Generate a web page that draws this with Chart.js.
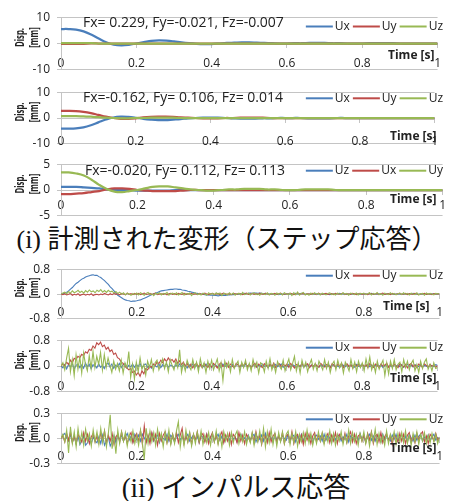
<!DOCTYPE html>
<html>
<head>
<meta charset="utf-8">
<script src="https://cdn.jsdelivr.net/npm/chart.js@4.4.0/dist/chart.umd.min.js"></script>
<style>
  body { margin: 0; background: #fff; }
  #fig { position: relative; width: 450px; height: 501px; overflow: hidden; background: #fff; }
  #fig canvas { position: absolute; left: 0; }
  .cap { position: absolute; white-space: nowrap; font-family: "Liberation Serif", "Noto Sans CJK JP", serif;
         font-size: 26px; line-height: 30px; height: 30px; color: #111; transform: translateX(-50%); }
</style>
</head>
<body>
<div id="fig">
  <div class="cap" id="cap1" style="left:227px; top:225px;">(i) 計測された変形（ステップ応答）</div>
  <div class="cap" id="cap2" style="left:236px; top:473px; font-size:27px;">(ii) インパルス応答</div>
</div>
<script>
// time axis samples
const stepTime = [0,0.02,0.04,0.06,0.08,0.1,0.12,0.14,0.16,0.18,0.2,0.22,0.24,0.26,0.28,0.3,0.32,0.34,0.36,0.38,
  0.4,0.42,0.44,0.46,0.48,0.5,0.52,0.54,0.56,0.58,0.6,0.62,0.64,0.66,0.68,0.7,0.72,0.74,0.76,0.78,
  0.8,0.82,0.84,0.86,0.88,0.9,0.92,0.94,0.96,0.98,1];
const impTime = [
  0,0.005,0.01,0.015,0.02,0.025,0.03,0.035,0.04,0.045,0.05,0.055,0.06,0.065,0.07,0.075,0.08,0.085,0.09,0.095,
  0.1,0.105,0.11,0.115,0.12,0.125,0.13,0.135,0.14,0.145,0.15,0.155,0.16,0.165,0.17,0.175,0.18,0.185,0.19,0.195,
  0.2,0.205,0.21,0.215,0.22,0.225,0.23,0.235,0.24,0.245,0.25,0.255,0.26,0.265,0.27,0.275,0.28,0.285,0.29,0.295,
  0.3,0.305,0.31,0.315,0.32,0.325,0.33,0.335,0.34,0.345,0.35,0.355,0.36,0.365,0.37,0.375,0.38,0.385,0.39,0.395,
  0.4,0.405,0.41,0.415,0.42,0.425,0.43,0.435,0.44,0.445,0.45,0.455,0.46,0.465,0.47,0.475,0.48,0.485,0.49,0.495,
  0.5,0.505,0.51,0.515,0.52,0.525,0.53,0.535,0.54,0.545,0.55,0.555,0.56,0.565,0.57,0.575,0.58,0.585,0.59,0.595,
  0.6,0.605,0.61,0.615,0.62,0.625,0.63,0.635,0.64,0.645,0.65,0.655,0.66,0.665,0.67,0.675,0.68,0.685,0.69,0.695,
  0.7,0.705,0.71,0.715,0.72,0.725,0.73,0.735,0.74,0.745,0.75,0.755,0.76,0.765,0.77,0.775,0.78,0.785,0.79,0.795,
  0.8,0.805,0.81,0.815,0.82,0.825,0.83,0.835,0.84,0.845,0.85,0.855,0.86,0.865,0.87,0.875,0.88,0.885,0.89,0.895,
  0.9,0.905,0.91,0.915,0.92,0.925,0.93,0.935,0.94,0.945,0.95,0.955,0.96,0.965,0.97,0.975,0.98,0.985,0.99,0.995,1];

// (i) step response, Fx= 0.229
const p1Ux = [5.5,5.5,5.3,4.6,3.4,1.9,0.5,-0.4,-0.7,-0.5, 0,0.5,1.0,1.2,1.1,0.8,0.4,0.1,-0.1,-0.2,
  -0.2,0,0.2,0.3,0.4,0.4,0.3,0.2,0.1,0, 0,0.1,0.1,0.2,0.2,0.2,0.1,0.1,0,0, 0,0.1,0.1,0.1,0.1,0,0,0,0,0,0];
const p1Uy = [-0.1,-0.1,-0.1,-0.1,0,0,0,0,0,0, 0,0,0,0,0,0,0,0,0,0, 0,0,0,0,0,0,0,0,0,0,
  0,0,0,0,0,0,0,0,0,0, 0,0,0,0,0,0,0,0,0,0,0];
const p1Uz = [0.1,0.1,0.1,0.1,0.1,0,0,0,0,0, 0,0,0,0,0,0,0,0,0,0, 0,0,0,0,0,0,0,0,0,0,
  0,0,0,0,0,0,0,0,0,0, 0,0,0,0,0,0,0,0,0,0,0];
// Fx=-0.162
const p2Ux = [-4.1,-4.1,-4.0,-3.6,-2.8,-1.7,-0.6,0.2,0.5,0.4, 0.1,-0.3,-0.6,-0.8,-0.8,-0.6,-0.4,-0.1,0,0.1,
  0.1,0.1,0,-0.1,-0.2,-0.2,-0.2,-0.1,-0.1,0, 0,0,0,-0.1,-0.1,-0.1,-0.1,0,0,0, 0,0,0,0,0,0,0,0,0,0,0];
const p2Uy = [2.8,2.8,2.7,2.4,1.9,1.2,0.5,0,-0.3,-0.3, -0.1,0.2,0.4,0.5,0.5,0.4,0.2,0.1,0,-0.1,
  -0.1,-0.1,0,0,0.1,0.1,0.1,0.1,0,0, 0,0,0,0,0,0,0,0,0,0, 0,0,0,0,0,0,0,0,0,0,0];
const p2Uz = [0.7,0.7,0.7,0.6,0.5,0.3,0.1,0,-0.1,-0.1, 0,0,0.1,0.1,0.1,0.1,0,0,0,0,
  0,0,0,0,0,0,0,0,0,0, 0,0,0,0,0,0,0,0,0,0, 0,0,0,0,0,0,0,0,0,0,0];
// Fx=-0.020 (legend order Uz, Ux, Uy)
const p3Uz = [0.6,0.6,0.6,0.5,0.4,0.3,0.1,0,0,0, -0.1,-0.1,-0.1,-0.1,-0.1,0,0,0,0,0,
  0,0,0,0,0,0,0,0,0,0, 0,0,0,0,0,0,0,0,0,0, 0,0,0,0,0,0,0,0,0,0,0];
const p3Ux = [-0.8,-0.8,-0.7,-0.6,-0.4,-0.2,0.1,0.3,0.3,0.2, 0,-0.1,-0.2,-0.2,-0.2,-0.2,-0.1,0,0,0,
  0,0,0,0,0,0,0,0,0,0, 0,0,0,0,0,0,0,0,0,0, 0,0,0,0,0,0,0,0,0,0,0];
const p3Uy = [3.4,3.4,3.2,2.8,2.0,1.0,0.2,-0.3,-0.4,-0.2, 0,0.3,0.6,0.7,0.7,0.5,0.3,0.1,0,-0.1,
  -0.1,0,0.1,0.1,0.2,0.2,0.2,0.1,0.1,0, 0,0,0.1,0.1,0.1,0.1,0,0,0,0, 0,0,0,0,0,0,0,0,0,0,0];

// (ii) impulse response
const p4Ux = [
  0,0.01,0.03,0.06,0.10,0.16,0.21,0.28,0.34,0.38,0.43,0.48,0.51,0.55,0.57,0.59,0.61,0.62,0.60,0.60,
  0.56,0.53,0.48,0.43,0.37,0.31,0.23,0.17,0.10,0.03,-0.04,-0.08,-0.12,-0.16,-0.19,-0.21,-0.22,-0.24,-0.23,-0.23,
  -0.22,-0.20,-0.19,-0.16,-0.14,-0.11,-0.08,-0.05,-0.02,0.01,0.03,0.05,0.08,0.10,0.11,0.12,0.13,0.14,0.15,0.15,
  0.16,0.16,0.15,0.15,0.13,0.12,0.11,0.09,0.08,0.06,0.05,0.03,0.02,0.01,0,-0.01,-0.02,-0.03,-0.03,-0.04,
  -0.04,-0.05,-0.05,-0.06,-0.05,-0.05,-0.04,-0.05,-0.03,-0.03,-0.02,-0.02,-0.01,0,-0.01,0.01,0.01,0.02,0.01,0.02,
  0.03,0.02,0.03,0.03,0.02,0.03,0.02,0.01,0.02,0.01,0,0.01,0,-0.01,0,-0.02,-0.01,0,-0.01,0,
  0.01,0,-0.01,0.01,0.02,0,0.01,0.02,0.01,0,-0.01,0,0.01,-0.01,0,0.01,0,-0.01,0,0.01,
  0,-0.01,-0.02,0,0.01,0,0.01,0.02,0.01,0,0.01,-0.01,0,0.01,0,-0.01,0.01,0,-0.01,0,
  0.01,0,0,0.01,0.02,0,-0.01,0,0.01,0,0,-0.01,0.01,0,0.01,0,-0.01,0,0.01,0,
  -0.01,0,0.01,0,0,0.01,0.02,0,0,-0.01,0.01,0,0,0.01,-0.01,0,0.01,0,0,0.01, 0];
const p4Uy = [
  0,-0.02,0.01,-0.03,-0.01,0.02,-0.04,-0.01,-0.03,0.01,-0.05,-0.02,0,-0.04,-0.01,-0.03,0.01,-0.05,-0.02,-0.01,
  -0.03,0,-0.02,0.02,-0.01,-0.03,0.01,-0.02,0.02,-0.01,0.01,-0.03,0.02,0,-0.02,0.03,-0.01,0.01,-0.02,0.02,
  -0.01,0.02,-0.02,0.01,0.03,-0.01,0,0.02,-0.02,0.01,0.03,-0.02,0,0.01,-0.01,0.02,-0.03,0.01,0.02,-0.01,
  0.01,-0.02,0.02,0,-0.01,0.03,-0.02,0.01,0,0.02,-0.01,0.01,-0.02,0.02,0,-0.01,0.03,0,-0.02,0.01,
  0.02,-0.01,0,0.02,-0.02,0.01,0.03,-0.01,0,0.01,-0.02,0.02,0.01,-0.01,0.02,0,-0.02,0.01,0.03,-0.01,
  0,0.02,-0.01,0.01,-0.02,0.03,0,-0.01,0.02,0.01,-0.02,0.01,0,0.02,-0.01,0.01,0.03,-0.02,0,0.01,
  -0.01,0.02,0.01,-0.02,0,0.03,-0.01,0.01,0.02,-0.02,0.01,0,-0.01,0.02,0.01,-0.02,0.03,0,-0.01,0.01,
  0.02,-0.01,0,0.01,-0.02,0.02,0.01,-0.01,0,0.03,-0.02,0.01,0,-0.01,0.02,0.01,-0.02,0,0.02,-0.01,
  0.01,0,-0.02,0.02,0.01,-0.01,0,0.02,-0.02,0.01,0.03,-0.01,0,0.01,-0.02,0.02,0,-0.01,0.01,0.02,
  -0.01,0,0.02,-0.02,0.01,0,-0.01,0.02,0.01,-0.02,0,0.01,0.02,-0.01,0,0.01,-0.02,0.01,0,0.01, 0];
const p4Uz = [
  0,0.03,0.06,0.01,0.08,0.03,0.10,0.04,0.07,0.12,0.05,0.09,0.03,0.11,0.06,0.13,0.07,0.10,0.04,0.12,
  0.08,0.14,0.06,0.11,0.05,0.12,0.07,0.09,0.03,0.08,0.02,0.06,-0.01,0.04,-0.03,0.03,0,-0.04,0.02,-0.02,
  0.03,-0.03,0.04,0,-0.04,0.02,0.05,-0.02,0.01,-0.05,0.03,0,0.04,-0.03,0.02,-0.01,0.05,-0.04,0.01,0.03,
  -0.02,0.04,-0.03,0.01,0.05,-0.04,0.02,-0.01,0.03,-0.05,0.02,0.04,-0.02,0.01,-0.03,0.03,0,-0.04,0.04,-0.01,
  0.02,-0.03,0.04,-0.01,0.03,-0.05,0.02,0.01,-0.03,0.04,-0.02,0.03,-0.04,0.01,0.02,-0.03,0.05,-0.02,0,0.03,
  -0.03,0.02,0.04,-0.02,0.01,-0.04,0.03,0,-0.02,0.04,-0.03,0.02,0.01,-0.04,0.03,-0.01,0.02,-0.03,0.04,0,
  -0.02,0.03,-0.05,0.04,-0.03,0.06,-0.04,0.02,0.05,-0.03,0.01,-0.04,0.03,-0.02,0.04,-0.01,0.02,-0.03,0.03,0,
  -0.03,0.02,0.04,-0.02,0.01,-0.03,0.03,0,-0.02,0.04,-0.01,0.02,-0.04,0.03,0.01,-0.02,0.03,-0.03,0.02,0,
  0.03,-0.02,0.01,0.04,-0.03,0.02,-0.01,0.05,-0.02,0.01,-0.04,0.03,0,-0.02,0.04,-0.01,0.02,-0.03,0.01,0.03,
  -0.02,0.04,-0.01,0.02,-0.03,0.03,0,-0.02,0.04,-0.03,0.01,0.02,-0.04,0.03,-0.01,0.02,0,-0.03,0.02,0.01, 0];

const p5Ux = [
  0,-0.06,0.04,-0.09,0.05,-0.03,0.08,-0.10,0.02,0.06,-0.05,0.03,-0.07,0.09,-0.02,0.05,-0.08,0.04,0.01,-0.06,
  0.07,-0.04,0.02,-0.08,0.05,0.09,-0.03,0.06,-0.07,0.03,-0.02,0.08,-0.05,0.04,0.07,-0.06,0.02,-0.03,0.06,-0.04,
  0.05,-0.02,0.08,-0.06,0.03,0.06,-0.04,0.02,-0.07,0.05,0.01,-0.03,0.06,-0.05,0.04,-0.02,0.07,-0.04,0.03,0.01,
  -0.05,0.04,-0.02,0.06,-0.03,0.05,0.02,-0.06,0.04,-0.01,0.06,-0.04,0.03,-0.05,0.05,0.01,-0.03,0.06,-0.02,0.04,
  -0.04,0.03,0.05,-0.03,0.02,-0.05,0.06,-0.02,0.04,0,-0.04,0.05,-0.03,0.02,0.06,-0.04,0.03,-0.02,0.05,-0.01,
  0.04,-0.03,0.02,0.05,-0.04,0.03,-0.02,0.06,-0.01,0.03,-0.05,0.04,0.01,-0.03,0.05,-0.02,0.03,0.06,-0.04,0.02,
  -0.02,0.05,-0.03,0.04,0.01,-0.05,0.03,-0.01,0.06,-0.03,0.02,0.04,-0.04,0.03,-0.02,0.05,0,-0.03,0.04,-0.01,
  0.03,-0.04,0.05,-0.02,0.02,0.04,-0.03,0.01,-0.05,0.04,0.02,-0.02,0.05,-0.03,0.03,0,-0.04,0.05,-0.01,0.02,
  0.04,-0.03,0.01,0.05,-0.02,0.03,-0.04,0.02,0.05,-0.01,0.03,-0.05,0.02,0.04,-0.02,0.01,-0.03,0.05,-0.01,0.03,
  -0.02,0.04,-0.04,0.02,0.05,-0.01,0.03,-0.03,0.04,0.01,-0.02,0.05,-0.03,0.02,0,-0.04,0.03,0.01,-0.02,0.04, 0.02];
const p5Uy = [
  0,0.06,0.02,0.12,0.05,0.18,0.10,0.24,0.20,0.30,0.26,0.36,0.32,0.44,0.40,0.52,0.48,0.62,0.55,0.72,
  0.66,0.74,0.60,0.65,0.52,0.58,0.45,0.50,0.36,0.40,0.26,0.22,0.12,0.08,-0.02,-0.06,-0.12,-0.08,-0.20,-0.16,
  -0.28,-0.20,-0.32,-0.15,-0.24,-0.08,-0.12,0,-0.04,0.06,0.02,0.12,0.08,0.18,0.10,0.22,0.14,0.25,0.16,0.20,
  0.12,0.22,0.08,0.16,0.04,0.12,0,0.08,-0.04,0.06,-0.06,0.04,0.08,-0.02,0.05,-0.05,0.07,0.01,-0.04,0.06,
  -0.03,0.08,0.02,-0.06,0.05,0.10,-0.02,0.04,0.09,-0.04,0.06,0,-0.05,0.08,0.03,-0.03,0.07,0.01,0.10,-0.02,
  0.05,-0.06,0.04,0.08,-0.03,0.06,0,-0.05,0.07,0.02,-0.04,0.06,-0.02,0.09,-0.05,0.03,0.07,-0.03,0.05,0,
  0.06,-0.04,0.08,0.01,-0.06,0.05,0.02,-0.03,0.09,-0.02,0.04,0.07,-0.05,0.03,-0.02,0.06,0,-0.04,0.08,0.02,
  -0.03,0.05,0.01,-0.06,0.07,0.02,-0.04,0.06,-0.01,0.08,-0.05,0.03,0.06,-0.02,0.04,-0.06,0.07,0,0.05,-0.03,
  0.06,-0.02,0.04,-0.05,0.08,0.01,-0.04,0.06,0.02,-0.06,0.07,-0.01,0.03,0.09,-0.04,0.05,-0.02,0.06,0,-0.05,
  0.07,0.02,-0.03,0.05,-0.06,0.04,0.08,-0.02,0.03,-0.05,0.06,0.01,-0.04,0.07,0.02,-0.03,0.05,-0.01,0.04,-0.04, 0.02];
const p5Uz = [
  0,0.10,-0.12,0.25,0.55,-0.18,0.20,-0.30,0.35,-0.10,0.28,-0.22,0.40,0.05,-0.15,0.32,-0.08,0.45,-0.05,0.30,
  0.05,0.42,-0.12,0.35,-0.05,0.25,0.02,-0.20,0.15,-0.10,0.08,-0.15,0.18,-0.22,0.10,-0.05,0.45,-0.35,0.05,-0.40,
  0.12,-0.18,0.25,-0.10,0.05,-0.28,0.15,-0.05,0.20,-0.15,0.10,0.18,-0.12,0.06,0.22,-0.08,0.12,-0.18,0.20,0.02,
  -0.12,0.15,-0.05,0.50,-0.20,0.08,-0.15,0.18,0,-0.12,0.20,-0.08,0.12,-0.18,0.22,-0.05,0.10,-0.20,0.15,-0.08,
  0.18,-0.12,0.05,0.22,-0.15,0.10,-0.45,0.15,-0.05,0.12,-0.18,0.20,-0.08,0.05,0.15,-0.20,0.12,-0.05,0.18,-0.12,
  0.08,-0.15,0.20,-0.05,0.12,-0.22,0.10,0.05,-0.18,0.15,-0.08,0.22,-0.12,0.06,-0.20,0.14,0,-0.10,0.18,-0.15,
  0.05,0.22,-0.12,0.08,0.30,-0.15,0.10,-0.22,0.18,-0.05,0.12,-0.18,0.05,0.20,-0.10,0.08,-0.15,0.15,0.02,-0.12,
  0.20,-0.08,0.12,-0.20,0.05,0.15,-0.12,0.18,-0.05,0.10,-0.22,0.12,0,-0.15,0.20,-0.08,0.12,-0.18,0.15,-0.05,
  0.10,-0.15,0.22,-0.05,0.28,-0.12,0.08,-0.20,0.15,-0.10,0.05,0.18,-0.30,0.10,-0.25,0.15,-0.08,0.20,-0.12,0.05,
  0.12,-0.18,0.20,-0.05,0.15,-0.12,0.08,0.18,-0.15,0.05,-0.20,0.15,-0.08,0.12,0.22,-0.10,0.05,-0.15,0.10,-0.08, -0.05];

const p6Ux = [
  0,0.04,0.06,0.01,-0.03,0.05,-0.04,0.02,-0.06,0.03,-0.07,-0.02,0.03,-0.08,-0.05,0.01,-0.06,0.02,-0.03,-0.05,
  0.02,-0.06,0.04,-0.08,-0.03,0.02,-0.09,-0.04,0.03,-0.05,0.05,-0.02,0.04,-0.03,0.02,0.06,-0.02,0.03,-0.04,0.05,
  -0.01,0.04,-0.03,0.05,0.01,-0.04,0.03,-0.02,0.06,-0.03,0.02,0.04,-0.05,0.03,0,-0.02,0.05,-0.03,0.04,0.01,
  -0.04,0.03,0.05,-0.02,0.03,-0.04,0.02,0.05,-0.03,0.01,0.04,-0.02,0.03,-0.05,0.04,0.01,-0.03,0.05,-0.02,0.02,
  0.04,-0.03,0.02,0.05,-0.02,0.03,-0.04,0.01,0.04,-0.03,0.05,-0.01,0.02,-0.04,0.03,0.05,-0.02,0.01,-0.03,0.04,
  -0.02,0.03,0.05,-0.04,0.02,-0.01,0.04,-0.03,0.06,-0.02,0.03,0.01,-0.04,0.05,-0.02,0.03,-0.03,0.04,0,-0.02,
  0.05,-0.03,0.02,0.04,-0.04,0.03,-0.01,0.05,-0.03,0.02,0.04,-0.02,0.03,-0.05,0.02,0.04,-0.01,0.03,-0.03,0.05,
  -0.02,0.03,0.01,-0.04,0.05,-0.02,0.03,0.04,-0.03,0.02,-0.01,0.05,-0.04,0.03,0.01,-0.02,0.04,-0.03,0.06,-0.01,
  0.03,-0.04,0.02,0.05,-0.02,0.03,-0.03,0.04,0.01,-0.04,0.05,-0.02,0.03,0,-0.03,0.04,-0.01,0.05,-0.03,0.02,
  0.04,-0.02,0.03,-0.04,0.05,0.01,-0.03,0.04,-0.02,0.03,0.05,-0.03,0.02,-0.01,0.04,-0.03,0.02,0.05,-0.02,0.01, 0];
const p6Uy = [
  0,0.03,-0.04,0.06,-0.02,0.08,-0.05,0.03,-0.06,0.05,0.01,-0.04,0.07,-0.03,0.05,-0.06,0.02,0.06,-0.04,0.03,
  -0.05,0.07,-0.02,0.09,-0.06,0.04,-0.03,0.06,-0.07,0.02,0.05,-0.04,0.08,-0.03,0.04,-0.06,0.03,0.07,-0.05,0.02,
  0.06,-0.04,0.09,-0.07,0.15,-0.05,0.04,-0.06,0.07,-0.02,0.05,-0.08,0.06,-0.03,0.04,0.08,-0.05,0.03,-0.06,0.05,
  -0.03,0.07,-0.05,0.04,0.12,-0.06,0.03,-0.04,0.06,-0.07,0.05,-0.02,0.08,-0.05,0.03,0.06,-0.04,0.05,-0.06,0.02,
  0.07,-0.04,0.05,-0.06,0.03,0.08,-0.05,0.04,-0.03,0.06,-0.07,0.05,0.02,-0.05,0.07,-0.03,0.04,-0.06,0.05,0.01,
  -0.04,0.06,-0.05,0.08,-0.03,0.04,-0.07,0.05,0.02,-0.05,0.07,-0.04,0.03,0.06,-0.05,0.04,-0.03,0.07,-0.06,0.03,
  0.05,-0.04,0.08,-0.06,0.03,0.05,-0.05,0.04,-0.07,0.06,-0.02,0.05,-0.06,0.03,0.07,-0.04,0.05,-0.03,0.06,-0.05,
  0.02,0.06,-0.05,0.04,-0.03,0.07,-0.06,0.05,0.01,-0.04,0.06,-0.05,0.03,0.08,-0.04,0.05,-0.06,0.03,0.05,-0.03,
  0.04,-0.05,0.06,-0.02,0.08,-0.06,0.03,0.05,-0.04,0.07,-0.05,0.02,0.06,-0.03,0.04,-0.07,0.05,0.01,-0.04,0.06,
  -0.03,0.05,-0.06,0.04,0.07,-0.04,0.03,-0.05,0.06,-0.02,0.05,0.08,-0.04,0.03,-0.06,0.05,0.02,-0.03,0.06,-0.02, 0.01];
const p6Uz = [
  0,0.05,-0.04,0.10,-0.17,0.14,-0.06,0.08,-0.10,0.12,-0.05,0.07,-0.08,0.11,-0.03,0.06,-0.09,0.10,-0.04,0.08,
  -0.07,0.12,-0.05,0.09,-0.10,0.06,0.28,-0.12,0.04,-0.18,0.10,-0.06,0.08,-0.03,0.07,-0.09,0.05,-0.04,0.09,-0.06,
  0.04,-0.08,0.10,-0.05,-0.25,0.12,-0.06,0.09,-0.04,0.07,-0.08,0.11,-0.03,0.06,-0.10,0.08,-0.05,0.10,-0.07,0.05,
  -0.06,0.09,0.20,-0.10,0.06,-0.08,0.10,-0.04,0.07,-0.09,0.05,-0.06,0.08,-0.03,0.09,-0.07,0.04,-0.05,0.07,-0.08,
  0.06,-0.04,0.09,-0.07,0.05,-0.10,0.08,-0.03,0.06,-0.08,0.07,-0.05,0.04,0.09,-0.06,0.05,-0.04,0.08,-0.07,0.03,
  -0.05,0.07,-0.08,0.06,-0.04,0.09,-0.06,0.12,-0.10,0.08,-0.05,0.11,-0.07,0.06,-0.09,0.07,-0.04,0.08,-0.06,0.05,
  0.09,-0.07,0.06,-0.05,0.08,-0.09,0.05,-0.04,0.07,-0.06,0.10,-0.05,0.06,-0.08,0.04,-0.06,0.08,-0.03,0.07,-0.07,
  0.05,-0.04,0.09,-0.06,0.06,-0.08,0.05,-0.03,0.08,-0.07,0.04,-0.05,0.10,-0.06,0.07,-0.04,0.05,-0.08,0.06,-0.03,
  0.08,-0.06,0.05,-0.09,0.07,-0.04,0.11,-0.07,0.06,-0.05,0.04,-0.08,0.09,-0.06,0.05,-0.03,0.08,-0.07,0.06,-0.04,
  0.07,-0.05,0.09,-0.06,0.04,-0.08,0.06,-0.04,0.08,-0.07,0.05,-0.03,0.07,-0.06,0.04,-0.05,0.06,-0.04,0.05,-0.06, 0.02];

const labelsXYZ = ['Ux', 'Uy', 'Uz'];
const labelsZXY = ['Uz', 'Ux', 'Uy'];
const notes = ['Fx= 0.229, Fy=-0.021, Fz=-0.007', 'Fx=-0.162, Fy= 0.106, Fz= 0.014', 'Fx=-0.020, Fy= 0.112, Fz= 0.113'];
const yLimits = [10, 10, 5, 0.8, 0.8, 0.3];
const colors = ['#4a7ebb', '#be4b48', '#98b954'];
const gridColor = '#c4c4c4';
const PAD = 12;

// layout of each panel, in page pixels
const panels = [
  { top: 15,  bottom: 72,  time: stepTime, series: [p1Ux, p1Uy, p1Uz], labels: labelsXYZ, note: notes[0], noteX: 83, noteY: 23.5, legendY: 26.5, timeX: 388, timeY: 55.5, tickPad: 9, lw: 2.25 },
  { top: 90,  bottom: 146, time: stepTime, series: [p2Ux, p2Uy, p2Uz], labels: labelsXYZ, note: notes[1], noteX: 83, noteY: 98.3, legendY: 98.3, timeX: 390, timeY: 136.7, tickPad: 12, lw: 2.25 },
  { top: 162, bottom: 218, time: stepTime, series: [p3Uz, p3Ux, p3Uy], labels: labelsZXY, note: notes[2], noteX: 85, noteY: 170.7, legendY: 170.7, timeX: 390, timeY: 200, tickPad: 4, lw: 2.25 },
  { top: 267, bottom: 321, time: impTime, series: [p4Ux, p4Uy, p4Uz], labels: labelsXYZ, note: '', legendY: 275.7, timeX: 383, timeY: 306.7, tickPad: 7, lw: 1.1 },
  { top: 338, bottom: 394, time: impTime, series: [p5Ux, p5Uy, p5Uz], labels: labelsXYZ, note: '', legendY: 347.7, timeX: 390, timeY: 378.3, tickPad: 9, lw: 1.1 },
  { top: 411, bottom: 466, time: impTime, series: [p6Ux, p6Uy, p6Uz], labels: labelsXYZ, note: '', legendY: 419.3, timeX: 390, timeY: 448.3, tickPad: 7, lw: 1.1 }
];

// note text, legend, axis titles
const panelText = {
  id: 'panelText',
  afterDraw(chart, args, o) {
    const ctx = chart.ctx, a = chart.chartArea, oy = o.canvasTop;
    ctx.save();
    ctx.fillStyle = '#222';
    ctx.textBaseline = 'middle';
    ctx.textAlign = 'left';
    if (o.note) {
      ctx.font = '14px "Open Sans"';
      ctx.fillText(o.note, o.noteX, o.noteY - oy);
    }
    ctx.font = '12px "Open Sans"';
    const items = chart.data.datasets.map(d => ({ label: d.label, color: d.borderColor, w: ctx.measureText(d.label).width }));
    const lineLen = 27, gapT = 2, gapI = 3;
    const total = items.reduce((s, it) => s + lineLen + gapT + it.w, 0) + gapI * (items.length - 1);
    let x = 443 - total;
    const ly = o.legendY - oy;
    items.forEach(it => {
      ctx.strokeStyle = it.color;
      ctx.lineWidth = 2;
      ctx.beginPath(); ctx.moveTo(x, ly); ctx.lineTo(x + lineLen, ly); ctx.stroke();
      x += lineLen + gapT;
      ctx.fillText(it.label, x, ly);
      x += it.w + gapI;
    });
    ctx.font = 'bold 12px "Open Sans"';
    ctx.fillText('Time [s]', o.timeX, o.timeY - oy);
    const cy = (a.top + a.bottom) / 2 - 6;
    [['Disp.', 21], ['[mm]', 35]].forEach(([s, tx]) => {
      ctx.save();
      ctx.translate(tx, cy);
      ctx.rotate(-Math.PI / 2);
      ctx.scale(0.65, 1);
      ctx.textAlign = 'center';
      ctx.fillText(s, 0, 0);
      ctx.restore();
    });
    ctx.restore();
  }
};

const tickFont = { family: 'Open Sans', size: 12 };
const charts = [];
const fig = document.getElementById('fig');

panels.forEach((p, n) => {
  const canvas = document.createElement('canvas');
  const canvasTop = p.top - PAD;
  const h = p.bottom - p.top + 2 * PAD;
  canvas.width = 450;
  canvas.height = h;
  canvas.style.top = canvasTop + 'px';
  canvas.style.width = '450px';
  canvas.style.height = h + 'px';
  fig.appendChild(canvas);
  const lim = yLimits[n];
  charts.push(new Chart(canvas, {
    type: 'line',
    data: {
      datasets: p.series.map((vals, i) => ({
        label: p.labels[i],
        data: vals.map((v, k) => ({ x: p.time[k], y: v })),
        borderColor: colors[i],
        borderWidth: p.lw,
        pointRadius: 0,
        tension: p.lw > 2 ? 0.4 : 0,
        fill: false,
        order: 3 - i
      }))
    },
    options: {
      responsive: false,
      animation: false,
      devicePixelRatio: 1,
      layout: { padding: { top: PAD, bottom: PAD, left: 0, right: 3 } },
      plugins: {
        legend: { display: false },
        tooltip: { enabled: false },
        panelText: Object.assign({ canvasTop }, p)
      },
      scales: {
        x: {
          type: 'linear', position: { y: 0 }, min: 0, max: 1,
          ticks: { stepSize: 0.2, padding: p.tickPad, maxRotation: 0, autoSkip: false, font: tickFont, color: '#222',
                   callback: v => String(Math.round(v * 10) / 10) },
          grid: { drawOnChartArea: false, tickLength: 4, tickColor: gridColor },
          border: { color: gridColor }
        },
        y: {
          min: -lim, max: lim,
          afterFit: s => { s.width = 61; },
          ticks: { stepSize: lim, padding: 7, font: tickFont, color: '#222' },
          grid: { color: gridColor, tickLength: 4 },
          border: { color: gridColor }
        }
      }
    },
    plugins: [panelText]
  }));
});

document.fonts.ready.then(() => charts.forEach(c => c.update()));
</script>
</body>
</html>
